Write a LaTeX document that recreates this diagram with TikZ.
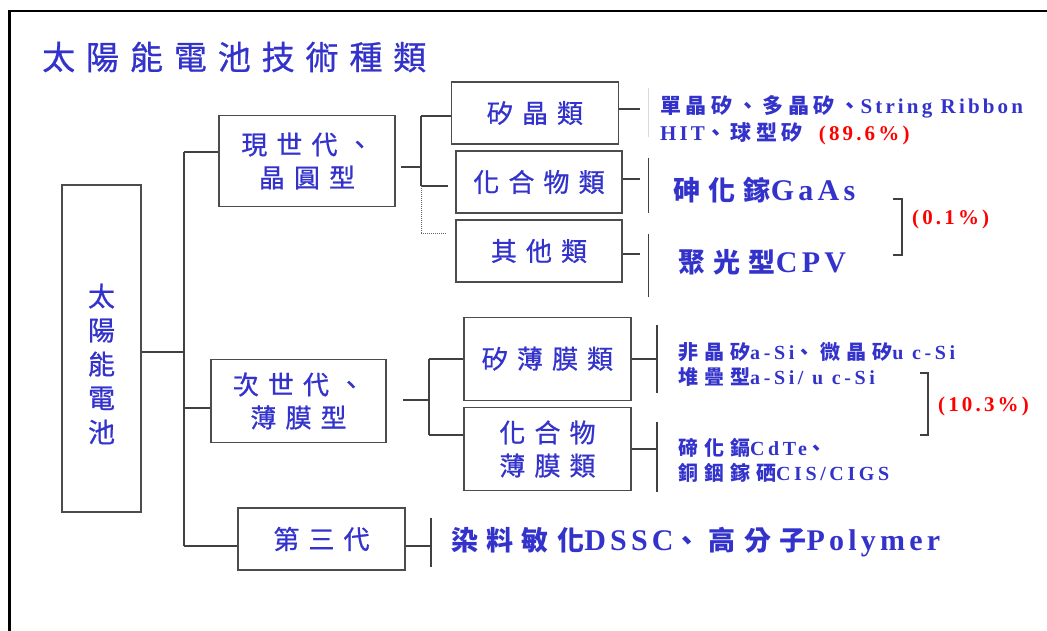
\documentclass[tikz,border=0pt]{standalone}
\usepackage{fontspec}
\setmainfont{Liberation Serif}
\newfontfamily\fcj[LetterSpace=35,FakeBold=0.8]{Noto Sans CJK TC}
\newfontfamily\ftitle[LetterSpace=33,FakeBold=0.8]{Noto Sans CJK TC}
\newfontfamily\fcjb[LetterSpace=22]{Noto Sans CJK TC}
\newfontfamily\fcjm[LetterSpace=30]{Noto Sans CJK TC}
\newfontfamily\fcjL[LetterSpace=31]{Noto Sans CJK TC}
\newfontfamily\flatn[LetterSpace=15]{Liberation Serif}
\newfontfamily\flats[LetterSpace=18]{Liberation Serif}
\newfontfamily\flatL[LetterSpace=14]{Liberation Serif}
\definecolor{tblue}{RGB}{51,51,204}
\definecolor{tred}{RGB}{255,0,0}
\newcommand{\cb}[1]{{\fcjb\bfseries #1}}
\newcommand{\lb}[1]{{\flatn\bfseries #1}}
\newcommand{\cm}[1]{{\fcjm\bfseries #1}}
\newcommand{\lm}[1]{{\flats\bfseries #1}}
\newcommand{\cL}[1]{{\fcjL\bfseries #1}}
\newcommand{\lL}[1]{{\flatL\bfseries\fontsize{30}{32}\selectfont #1}}
\begin{document}
\begin{tikzpicture}[x=1pt,y=-1pt,
  box/.style={draw=black!70, line width=1.3pt, inner sep=0pt, text=tblue,
    font=\fcj\fontsize{26}{33}\selectfont, align=center},
  ln/.style={draw=black!75, line width=1.2pt},
  lgt/.style={draw=black!15, line width=1.2pt},
  dot/.style={draw=black!60, line width=1pt, densely dotted},
  lbl/.style={anchor=west, inner sep=0pt, text=tblue},
  frame/.style={draw=black, line width=2.2pt}]
\useasboundingbox (0,0) rectangle (1047,631);
% frame
\coordinate (fr1) at (9.5,631);
\coordinate (fr2) at (9.5,11);
\coordinate (fr3) at (1047,11);
\draw[frame] (fr1) -- (fr2) -- (fr3);
% title
\node[lbl, font=\ftitle\fontsize{33}{40}\selectfont] (title) at (42,57) {太陽能電池技術種類};
% root
\node[box, minimum width=79pt, minimum height=327pt, font=\fcj\fontsize{27}{34}\selectfont] (root) at (101.5,348.5)
  {\raisebox{-19pt}[\height][\depth]{\begin{tabular}{@{}c@{}}太\\陽\\能\\電\\池\end{tabular}}};
% generation boxes
\node[box, minimum width=176pt, minimum height=91pt] (g1) at (307,161) {現世代、\\晶圓型};
\node[box, minimum width=175pt, minimum height=83pt] (g2) at (298.5,401) {次世代、\\薄膜型};
\node[box, minimum width=167pt, minimum height=62pt] (g3) at (321.5,539) {第三代};
% first-gen children
\node[box, minimum width=167pt, minimum height=62pt] (c1) at (535,113) {矽晶類};
\node[box, minimum width=166pt, minimum height=62pt] (c2) at (539,182) {化合物類};
\node[box, minimum width=166pt, minimum height=62pt] (c3) at (539,251) {其他類};
% second-gen children
\node[box, minimum width=167pt, minimum height=83pt] (d1) at (547.5,358.7) {矽薄膜類};
\node[box, minimum width=167pt, minimum height=83pt] (d2) at (547.5,449) {化合物\\薄膜類};

% main spine
\coordinate (spT) at (184,152);
\coordinate (spR) at (184,352);
\coordinate (spM) at (184,408);
\coordinate (spB) at (184,546);
\draw[ln] (spT) -- (spB);
\draw[ln] (root.east |- spR) -- (spR);
\draw[ln] (spT) -- (g1.west |- spT);
\draw[ln] (spM) -- (g2.west |- spM);
\draw[ln] (spB) -- (g3.west |- spB);

% first-gen sub tree
\coordinate (a1) at (401,167);
\coordinate (a2) at (421,167);
\coordinate (aT) at (421,116);
\coordinate (aM) at (421,186);
\coordinate (aMe) at (448,186);
\coordinate (aD) at (421,234);
\coordinate (aDe) at (446,234);
\draw[ln] (a1) -- (a2);
\draw[ln] (aT) -- (aM);
\draw[ln] (aT) -- (c1.west |- aT);
\draw[ln] (aM) -- (aMe);
\draw[dot] (aM) -- (aD) -- (aDe);

% second-gen sub tree
\coordinate (b1) at (403,400);
\coordinate (b2) at (429,400);
\coordinate (bT) at (429,359);
\coordinate (bB) at (429,435);
\draw[ln] (b1) -- (b2);
\draw[ln] (bT) -- (bB);
\draw[ln] (bT) -- (d1.west |- bT);
\draw[ln] (bB) -- (d2.west |- bB);

% right stubs and bars
\coordinate (e1) at (640,109);
\coordinate (e2) at (640,179);
\coordinate (e3) at (640,254);
\draw[ln] (c1.east |- e1) -- (e1);
\draw[ln] (c2.east |- e2) -- (e2);
\draw[ln] (c3.east |- e3) -- (e3);
\coordinate (v1a) at (648.5,88);  \coordinate (v1b) at (648.5,137);
\coordinate (v2a) at (648.5,158); \coordinate (v2b) at (648.5,213);
\coordinate (v3a) at (648.5,234); \coordinate (v3b) at (648.5,297);
\draw[lgt] (v1a) -- (v1b);
\draw[ln] (v2a) -- (v2b);
\draw[ln] (v3a) -- (v3b);

\coordinate (f1) at (657,359);
\coordinate (f2) at (657,449);
\draw[ln] (d1.east |- f1) -- (f1);
\draw[ln] (d2.east |- f2) -- (f2);
\coordinate (w1a) at (657,325); \coordinate (w1b) at (657,393);
\coordinate (w2a) at (657,422); \coordinate (w2b) at (657,492);
\draw[ln] (w1a) -- (w1b);
\draw[ln] (w2a) -- (w2b);

\coordinate (h1) at (431,546);
\draw[ln] (g3.east |- h1) -- (h1);
\coordinate (h1a) at (431,518); \coordinate (h1b) at (431,567);
\draw[ln] (h1a) -- (h1b);

% brackets
\coordinate (k1) at (893,199); \coordinate (k2) at (902,199);
\coordinate (k3) at (902,255); \coordinate (k4) at (893,255);
\draw[ln] (k1) -- (k2) -- (k3) -- (k4);
\coordinate (m1) at (920,373); \coordinate (m2) at (928,373);
\coordinate (m3) at (928,435); \coordinate (m4) at (920,435);
\draw[ln] (m1) -- (m2) -- (m3) -- (m4);

% labels
\node[lbl, font=\fontsize{21}{25}\selectfont] (t1) at (660,107) {\cb{單晶矽、多晶矽、}\lb{String Ribbon}};
\node[lbl, font=\fontsize{21}{25}\selectfont] (t2) at (660,134) {\lb{HIT}\cb{、球型矽}\hspace{16pt}\lb{\color{tred}(89.6\%)}};
\node[lbl, font=\fontsize{27}{32}\selectfont] (t3) at (673,190) {\cL{砷化鎵}\lL{GaAs}};
\node[lbl, font=\fontsize{27}{32}\selectfont] (t4) at (678,262) {\cL{聚光型}\lL{CPV}};
\node[lbl, text=tred, font=\fontsize{21}{25}\selectfont] (t5) at (912,219) {\lb{(0.1\%)}};
\node[lbl, font=\fontsize{20}{24}\selectfont] (t6) at (678,352) {\cm{非晶矽}\lm{a-Si}\cm{、微晶矽}\lm{u c-Si}};
\node[lbl, font=\fontsize{20}{24}\selectfont] (t7) at (678,377) {\cm{堆疊型}\lm{a-Si/ u c-Si}};
\node[lbl, font=\fontsize{20}{24}\selectfont] (t8) at (678,448) {\cm{碲化鎘}\lm{CdTe}\cm{、}};
\node[lbl, font=\fontsize{20}{24}\selectfont] (t9) at (678,473) {\cm{銅銦鎵硒}\lm{CIS/CIGS}};
\node[lbl, text=tred, font=\fontsize{21}{25}\selectfont] (t10) at (938,406) {\lb{(10.3\%)}};
\node[lbl, font=\fontsize{27}{32}\selectfont] (t11) at (451,542) {\cL{染料敏化}\lL{DSSC}\cL{、高分子}\lL{Polymer}};
\end{tikzpicture}
\end{document}
